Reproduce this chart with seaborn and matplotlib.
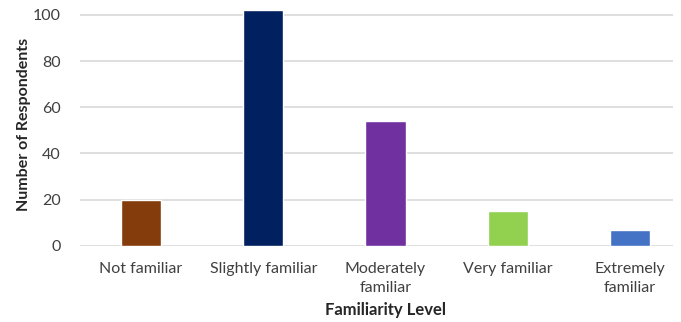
import matplotlib
matplotlib.use("Agg")
import matplotlib.pyplot as plt
import seaborn as sns
import pandas as pd

# Survey results: familiarity level vs. respondent counts
levels = ["Not familiar", "Slightly familiar", "Moderately familiar",
          "Very familiar", "Extremely familiar"]
tick_labels = ["Not familiar", "Slightly familiar", "Moderately\nfamiliar",
               "Very familiar", "Extremely\nfamiliar"]
respondents = [20, 102, 54, 15, 7]
bar_colors = ["#843C0C", "#002060", "#7030A0", "#92D050", "#4472C4"]

df = pd.DataFrame({"level": levels, "count": respondents})

sns.set_theme(style="white")
plt.rcParams["font.family"] = ["Lato", "DejaVu Sans"]

fig = plt.figure(figsize=(6.81, 3.22), dpi=100)
W, H = 681, 322
px_per_unit = 46.14 / 20
y0 = 245.7
ymax = 105
left, right = 80, 673
top_px = y0 - ymax * px_per_unit
ax = fig.add_axes([left / W, (H - y0) / H, (right - left) / W, (y0 - top_px) / H])

sns.barplot(data=df, x="level", y="count", hue="level", palette=bar_colors,
            order=levels, hue_order=levels, width=0.33, legend=False,
            saturation=1, ax=ax)

step = 122.2
ax.set_xlim(-0.5, -0.5 + (right - left) / step)
ax.set_ylim(0, ymax)
ax.set_yticks([0, 20, 40, 60, 80, 100])
ax.set_xticks(range(len(levels)))
ax.set_xticklabels(tick_labels, linespacing=1.45)
ax.tick_params(axis="both", colors="#404040", labelsize=11.5, length=0)
ax.tick_params(axis="x", pad=12)
ax.tick_params(axis="y", pad=14)
for lbl in ax.get_xticklabels():
    lbl.set_verticalalignment("top")

ax.yaxis.grid(True, color="#D9D9D9", linewidth=1.2)
ax.set_axisbelow(True)
for s in ax.spines.values():
    s.set_visible(False)

ax.set_ylabel("Number of Respondents", fontsize=11.5, fontweight="bold",
              color="#262626", labelpad=1)
ax.set_xlabel("")
ax.text(2, -0.266, "Familiarity Level", transform=ax.get_xaxis_transform(),
        ha="center", va="center", fontsize=12, fontweight="bold", color="#262626")

fig.savefig("out.png", dpi=100)
